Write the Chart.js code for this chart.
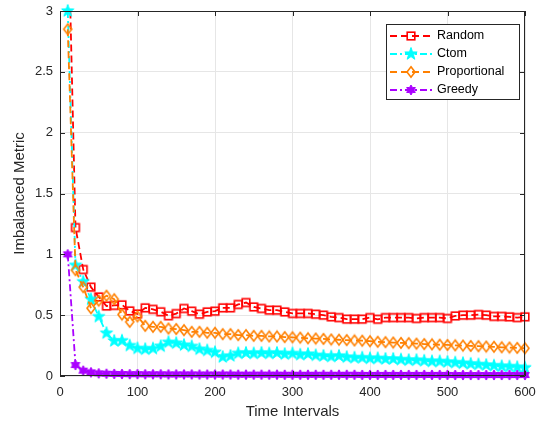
<!DOCTYPE html>
<html>
<head>
<meta charset="utf-8">
<script src="https://cdn.jsdelivr.net/npm/chart.js@4"></script>
<style>
  html, body { margin: 0; padding: 0; background: #fff; }
  #wrap { width: 544px; height: 424px; }
</style>
</head>
<body>
<div id="wrap"><canvas id="chart" width="544" height="424"></canvas></div>
<script>
const timeIntervals = [10, 20, 30, 40, 50, 60, 70, 80, 90, 100,
  110, 120, 130, 140, 150, 160, 170, 180, 190, 200,
  210, 220, 230, 240, 250, 260, 270, 280, 290, 300,
  310, 320, 330, 340, 350, 360, 370, 380, 390, 400,
  410, 420, 430, 440, 450, 460, 470, 480, 490, 500,
  510, 520, 530, 540, 550, 560, 570, 580, 590, 600];

// first Random value lies above the axis top and is clipped, as in the original
const randomVals = [3.9, 1.22, 0.875, 0.73, 0.65, 0.575, 0.58, 0.585, 0.535, 0.51,
  0.56, 0.548, 0.528, 0.495, 0.513, 0.555, 0.533, 0.508, 0.527, 0.533,
  0.56, 0.56, 0.588, 0.604, 0.568, 0.555, 0.541, 0.541, 0.527, 0.514,
  0.514, 0.514, 0.508, 0.5, 0.486, 0.48, 0.467, 0.467, 0.467, 0.48,
  0.466, 0.48, 0.48, 0.48, 0.48, 0.473, 0.48, 0.48, 0.48, 0.473,
  0.494, 0.5, 0.5, 0.505, 0.5, 0.49, 0.49, 0.486, 0.48, 0.486];

const ctomVals = [3.0, 0.91, 0.775, 0.63, 0.488, 0.352, 0.288, 0.29, 0.25, 0.227,
  0.22, 0.225, 0.245, 0.277, 0.27, 0.254, 0.243, 0.22, 0.21, 0.195,
  0.156, 0.165, 0.186, 0.19, 0.185, 0.19, 0.185, 0.19, 0.18, 0.185,
  0.175, 0.18, 0.17, 0.165, 0.16, 0.165, 0.155, 0.15, 0.15, 0.145,
  0.145, 0.14, 0.14, 0.135, 0.13, 0.13, 0.125, 0.12, 0.12, 0.115,
  0.11, 0.105, 0.1, 0.095, 0.09, 0.085, 0.08, 0.078, 0.072, 0.068];

const proportionalVals = [2.85, 0.87, 0.73, 0.557, 0.62, 0.66, 0.631, 0.505, 0.445, 0.49,
  0.412, 0.404, 0.404, 0.39, 0.386, 0.377, 0.363, 0.363, 0.355, 0.355,
  0.344, 0.344, 0.336, 0.336, 0.33, 0.33, 0.325, 0.325, 0.32, 0.318,
  0.315, 0.31, 0.308, 0.305, 0.3, 0.298, 0.295, 0.292, 0.29, 0.286,
  0.281, 0.278, 0.275, 0.272, 0.27, 0.266, 0.262, 0.26, 0.257, 0.255,
  0.252, 0.25, 0.247, 0.245, 0.242, 0.24, 0.236, 0.234, 0.231, 0.228];

const greedyVals = [1.0, 0.09, 0.044, 0.03, 0.022, 0.019, 0.017, 0.016, 0.015, 0.015,
  0.014, 0.014, 0.014, 0.013, 0.013, 0.013, 0.013, 0.012, 0.012, 0.012,
  0.012, 0.012, 0.011, 0.011, 0.011, 0.011, 0.011, 0.011, 0.01, 0.01,
  0.01, 0.01, 0.01, 0.01, 0.01, 0.01, 0.01, 0.01, 0.009, 0.009,
  0.009, 0.009, 0.009, 0.009, 0.009, 0.009, 0.009, 0.009, 0.009, 0.009,
  0.008, 0.008, 0.008, 0.008, 0.008, 0.008, 0.008, 0.008, 0.008, 0.008];

const seriesNames = ['Random', 'Ctom', 'Proportional', 'Greedy'];
const xTicks = [0, 100, 200, 300, 400, 500, 600];
const yTicks = [0, 0.5, 1, 1.5, 2, 2.5, 3];

const AXIS_COLOR = '#262626';
const FONT = '"Liberation Sans", Arial, Helvetica, sans-serif';

/* === marker canvases (MATLAB-like) === */
function makeMarker(size, draw) {
  const c = document.createElement('canvas');
  c.width = size; c.height = size;
  const g = c.getContext('2d');
  g.translate(size / 2, size / 2);
  draw(g);
  return c;
}

function starPath(g, n, rOut, rIn) {
  g.beginPath();
  for (let i = 0; i < n * 2; i++) {
    const r = i % 2 === 0 ? rOut : rIn;
    const a = -Math.PI / 2 + i * Math.PI / n;
    const x = r * Math.cos(a), y = r * Math.sin(a);
    i === 0 ? g.moveTo(x, y) : g.lineTo(x, y);
  }
  g.closePath();
}

const squareMarker = makeMarker(12, g => {
  g.strokeStyle = '#ff0000';
  g.lineWidth = 1.6;
  g.strokeRect(-3.8, -3.8, 7.6, 7.6);
});

const diamondMarker = makeMarker(14, g => {
  g.strokeStyle = '#ff8000';
  g.lineWidth = 1.6;
  g.beginPath();
  g.moveTo(0, -5.2); g.lineTo(4, 0); g.lineTo(0, 5.2); g.lineTo(-4, 0);
  g.closePath();
  g.stroke();
});

const starMarker = makeMarker(16, g => {
  starPath(g, 5, 6.5, 2.6);
  g.fillStyle = '#00ffff';
  g.fill();
  g.strokeStyle = '#00ffff';
  g.lineWidth = 1;
  g.stroke();
});

const hexMarker = makeMarker(14, g => {
  starPath(g, 6, 5, 2.9);
  g.fillStyle = '#aa00ff';
  g.fill();
  g.strokeStyle = '#aa00ff';
  g.lineWidth = 1;
  g.stroke();
});

function toPoints(vals) {
  return vals.map((v, i) => ({ x: timeIntervals[i], y: v }));
}

const styles = [
  { color: '#ff0000', dash: [7, 4], marker: squareMarker, order: 4,
    clip: { left: 10, top: 0, right: 10, bottom: 10 } },
  { color: '#00ffff', dash: [7, 3, 2, 3], marker: starMarker, order: 3, clip: false },
  { color: '#ff8000', dash: [7, 4], marker: diamondMarker, order: 2, clip: false },
  { color: '#aa00ff', dash: [7, 3, 2, 3], marker: hexMarker, order: 1, clip: false }
];
const allVals = [randomVals, ctomVals, proportionalVals, greedyVals];

const datasets = seriesNames.map((name, i) => ({
  label: name,
  data: toPoints(allVals[i]),
  borderColor: styles[i].color,
  borderWidth: 1.8,
  borderDash: styles[i].dash,
  pointStyle: styles[i].marker,
  pointRadius: 5,
  pointHoverRadius: 5,
  tension: 0,
  fill: false,
  clip: styles[i].clip,
  order: styles[i].order
}));

/* === box, inward ticks, legend === */
const matlabAxesPlugin = {
  id: 'matlabAxes',
  afterDraw(chart) {
    const ctx = chart.ctx;
    const a = chart.chartArea;
    const xs = chart.scales.x, ys = chart.scales.y;
    ctx.save();
    ctx.strokeStyle = AXIS_COLOR;
    ctx.lineWidth = 1;
    ctx.beginPath();
    ctx.rect(a.left + 0.5, a.top + 0.5, a.right - a.left - 1, a.bottom - a.top - 1);
    const tl = 5;
    xTicks.forEach(v => {
      const px = Math.round(xs.getPixelForValue(v)) + 0.5;
      ctx.moveTo(px, a.bottom); ctx.lineTo(px, a.bottom - tl);
      ctx.moveTo(px, a.top); ctx.lineTo(px, a.top + tl);
    });
    yTicks.forEach(v => {
      const py = Math.round(ys.getPixelForValue(v)) + 0.5;
      ctx.moveTo(a.left, py); ctx.lineTo(a.left + tl, py);
      ctx.moveTo(a.right, py); ctx.lineTo(a.right - tl, py);
    });
    ctx.stroke();

    // legend
    const lx = 386, ly = 24, lw = 133, lh = 75;
    ctx.fillStyle = '#fff';
    ctx.fillRect(lx, ly, lw, lh);
    ctx.strokeStyle = AXIS_COLOR;
    ctx.lineWidth = 1;
    ctx.strokeRect(lx + 0.5, ly + 0.5, lw, lh);
    ctx.font = '12.5px ' + FONT;
    ctx.textBaseline = 'middle';
    ctx.textAlign = 'left';
    seriesNames.forEach((name, i) => {
      const y = ly + 12 + i * 18;
      const s = styles[i];
      ctx.strokeStyle = s.color;
      ctx.lineWidth = 1.8;
      ctx.setLineDash(s.dash);
      ctx.beginPath();
      ctx.moveTo(390, y); ctx.lineTo(432, y);
      ctx.stroke();
      ctx.setLineDash([]);
      ctx.drawImage(s.marker, 411 - s.marker.width / 2, y - s.marker.height / 2);
      ctx.fillStyle = '#000';
      ctx.fillText(name, 437, y);
    });
    ctx.restore();
  }
};

new Chart(document.getElementById('chart'), {
  type: 'line',
  data: { datasets },
  options: {
    responsive: false,
    animation: false,
    events: [],
    layout: { padding: { left: 0, right: 19, top: 11, bottom: 0 } },
    plugins: { legend: { display: false }, tooltip: { enabled: false } },
    scales: {
      x: {
        type: 'linear',
        min: 0, max: 600,
        afterFit(s) { s.height = 48; s.paddingLeft = 0; s.paddingRight = 0; },
        afterBuildTicks(s) { s.ticks = xTicks.map(v => ({ value: v })); },
        grid: { color: '#e6e6e6', lineWidth: 1, drawTicks: false },
        border: { display: false },
        ticks: { color: AXIS_COLOR, font: { family: FONT, size: 13 }, padding: 9, maxRotation: 0 },
        title: { display: true, text: 'Time Intervals', color: AXIS_COLOR,
                 font: { family: FONT, size: 15 }, padding: { top: 0, bottom: 3 } }
      },
      y: {
        min: 0, max: 3,
        afterFit(s) { s.width = 60; s.paddingTop = 0; s.paddingBottom = 0; },
        afterBuildTicks(s) { s.ticks = yTicks.map(v => ({ value: v })); },
        grid: { color: '#e6e6e6', lineWidth: 1, drawTicks: false },
        border: { display: false },
        ticks: { color: AXIS_COLOR, font: { family: FONT, size: 13 }, padding: 7,
                 callback: v => String(v) },
        title: { display: true, text: 'Imbalanced Metric', color: AXIS_COLOR,
                 font: { family: FONT, size: 15 }, padding: { top: 11, bottom: 0 } }
      }
    }
  },
  plugins: [matlabAxesPlugin]
});
</script>
</body>
</html>
